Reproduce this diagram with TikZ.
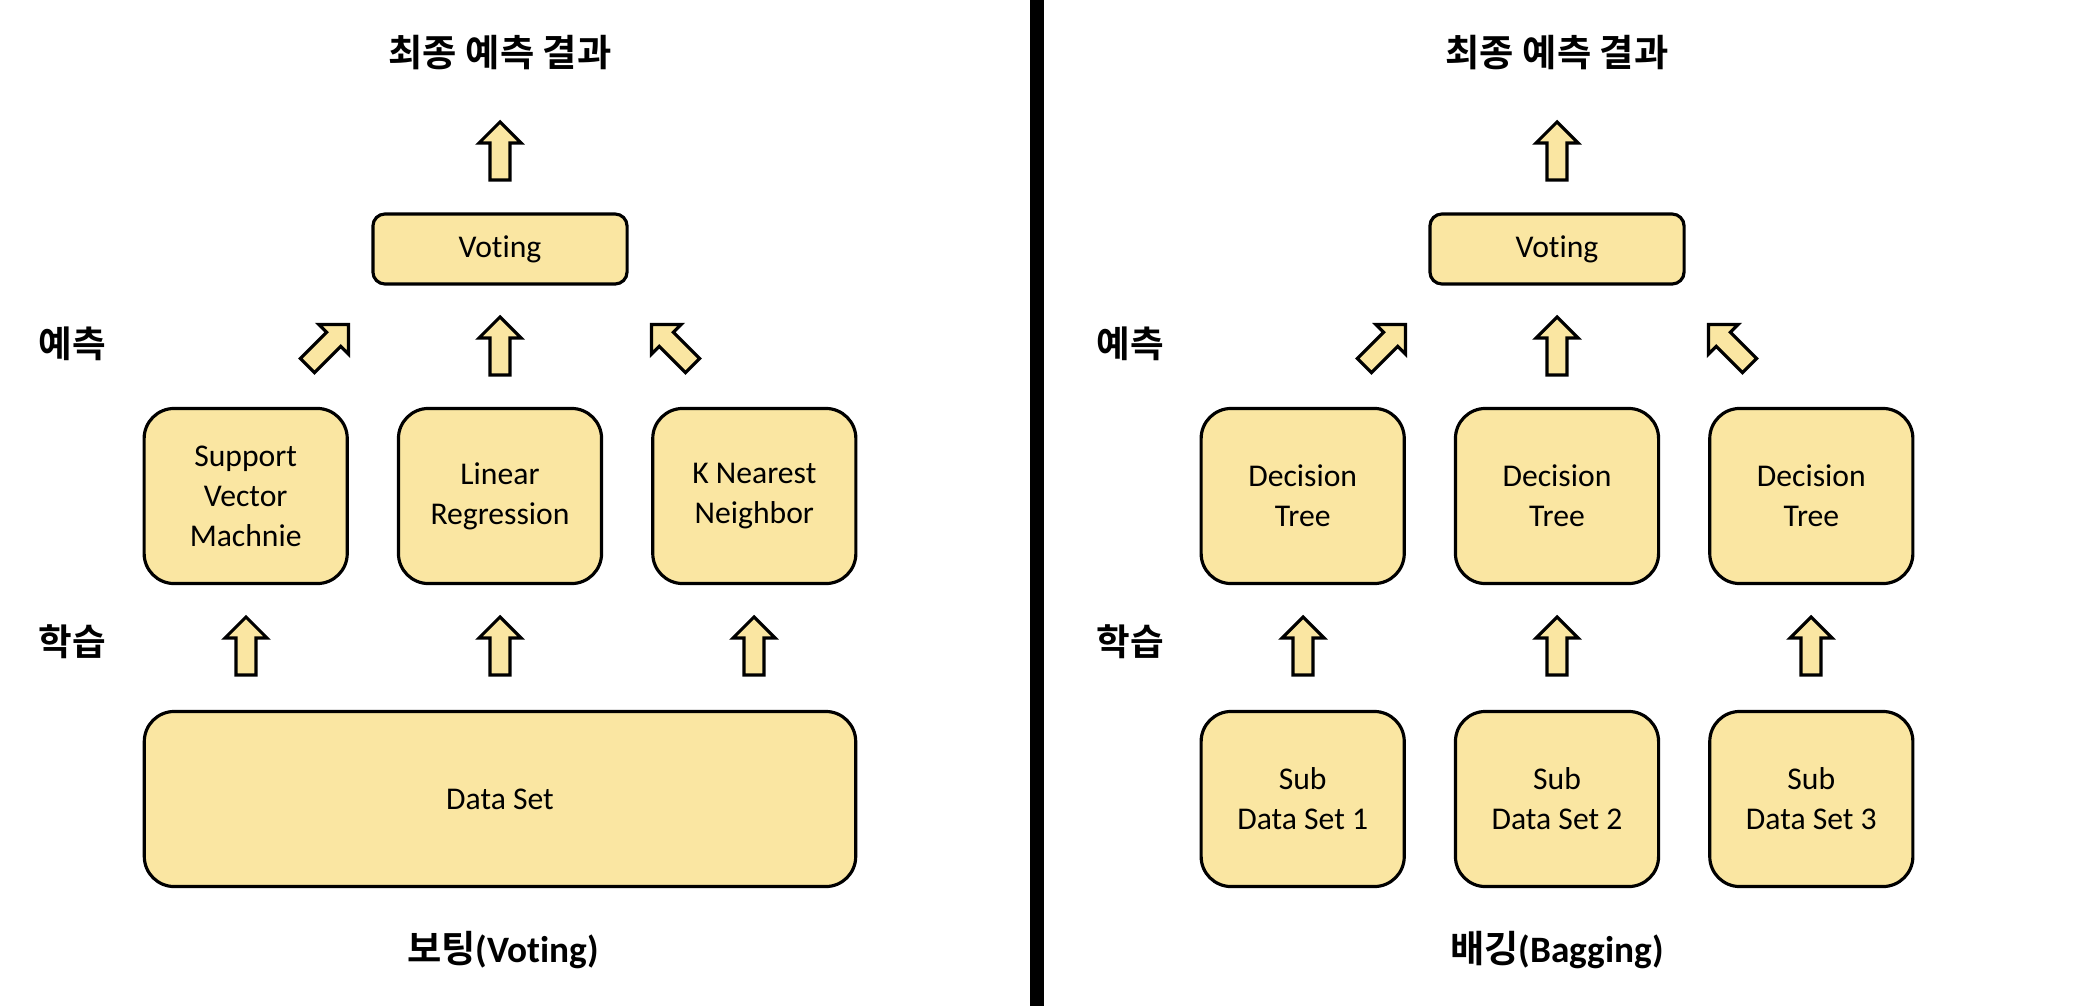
\documentclass[tikz,border=0pt]{standalone}
\usepackage{fontspec}
\setmainfont{Carlito}[Ligatures=NoCommon]
\newfontfamily\kor{Noto Sans CJK KR}[BoldFont={Noto Sans CJK KR Bold}]
\usetikzlibrary{positioning}
\definecolor{gold}{HTML}{FAE6A2}

\tikzset{
  blockarr/.pic={
    \draw[line width=0.9pt, fill=gold, line join=miter]
      (-0.1cm,-0.29cm) -- (0.1cm,-0.29cm) -- (0.1cm,0.08cm) -- (0.21cm,0.08cm)
      -- (0,0.29cm) -- (-0.21cm,0.08cm) -- (-0.1cm,0.08cm) -- cycle;
  }
}

\begin{document}
\begin{tikzpicture}[
    x=0.01cm, y=-0.01cm,
    node distance=0.48cm,
    box/.style={draw, line width=0.9pt, fill=gold, rounded corners=0.3cm, minimum width=2.03cm, minimum height=1.75cm, align=center, inner sep=0pt, font=\fontsize{9}{11.4}\selectfont},
    votebox/.style={box, rounded corners=0.12cm, minimum width=2.54cm, minimum height=0.7cm},
    title/.style={font=\bfseries\fontsize{10.6}{12}\selectfont},
    side/.style={font=\kor\bfseries\fontsize{10.4}{12}\selectfont}
  ]
    \useasboundingbox (0,0) rectangle (2076,1006);
    \fill (1030,0) rectangle (1044,1006);

    % voting
    \node[title] (vtop) at (500,53) {\kor 최종 예측 결과};
    \node[votebox] (vvote) at (500,249) {Voting};
    \node[box] (lr) at (500,496) {Linear\\Regression};
    \node[box, left=of lr] (svm) {Support\\Vector\\Machnie};
    \node[box, right=of lr] (knn) {K Nearest\\Neighbor};
    \node[box, minimum width=7.11cm] (data) at (500,799) {Data Set};
    \node[title] (vname) at (503,950) {{\kor 보팅}(Voting)};
    \node[side] (vpred) at (72,344) {예측};
    \node[side] (vlearn) at (72,642) {학습};

    \pic at (500,151) {blockarr};
    \pic at (500,346) {blockarr};
    \pic[rotate=-45] at (328,345) {blockarr};
    \pic[rotate=45] at (672,345) {blockarr};
    \foreach \x in {246,500,754} \pic at (\x,646) {blockarr};

    % bagging
    \node[title] (btop) at (1557,53) {\kor 최종 예측 결과};
    \node[votebox] (bvote) at (1557,249) {Voting};
    \node[box] (dt2) at (1557,496) {Decision\\Tree};
    \node[box, left=of dt2] (dt1) {Decision\\Tree};
    \node[box, right=of dt2] (dt3) {Decision\\Tree};
    \node[box] (sub2) at (1557,799) {Sub\\Data Set 2};
    \node[box, left=of sub2] (sub1) {Sub\\Data Set 1};
    \node[box, right=of sub2] (sub3) {Sub\\Data Set 3};
    \node[title] (bname) at (1557,950) {{\kor 배깅}(Bagging)};
    \node[side] (bpred) at (1130,344) {예측};
    \node[side] (blearn) at (1130,642) {학습};

    \pic at (1557,151) {blockarr};
    \pic at (1557,346) {blockarr};
    \pic[rotate=-45] at (1385,345) {blockarr};
    \pic[rotate=45] at (1729,345) {blockarr};
    \foreach \x in {1303,1557,1811} \pic at (\x,646) {blockarr};
  \end{tikzpicture}
\end{document}
